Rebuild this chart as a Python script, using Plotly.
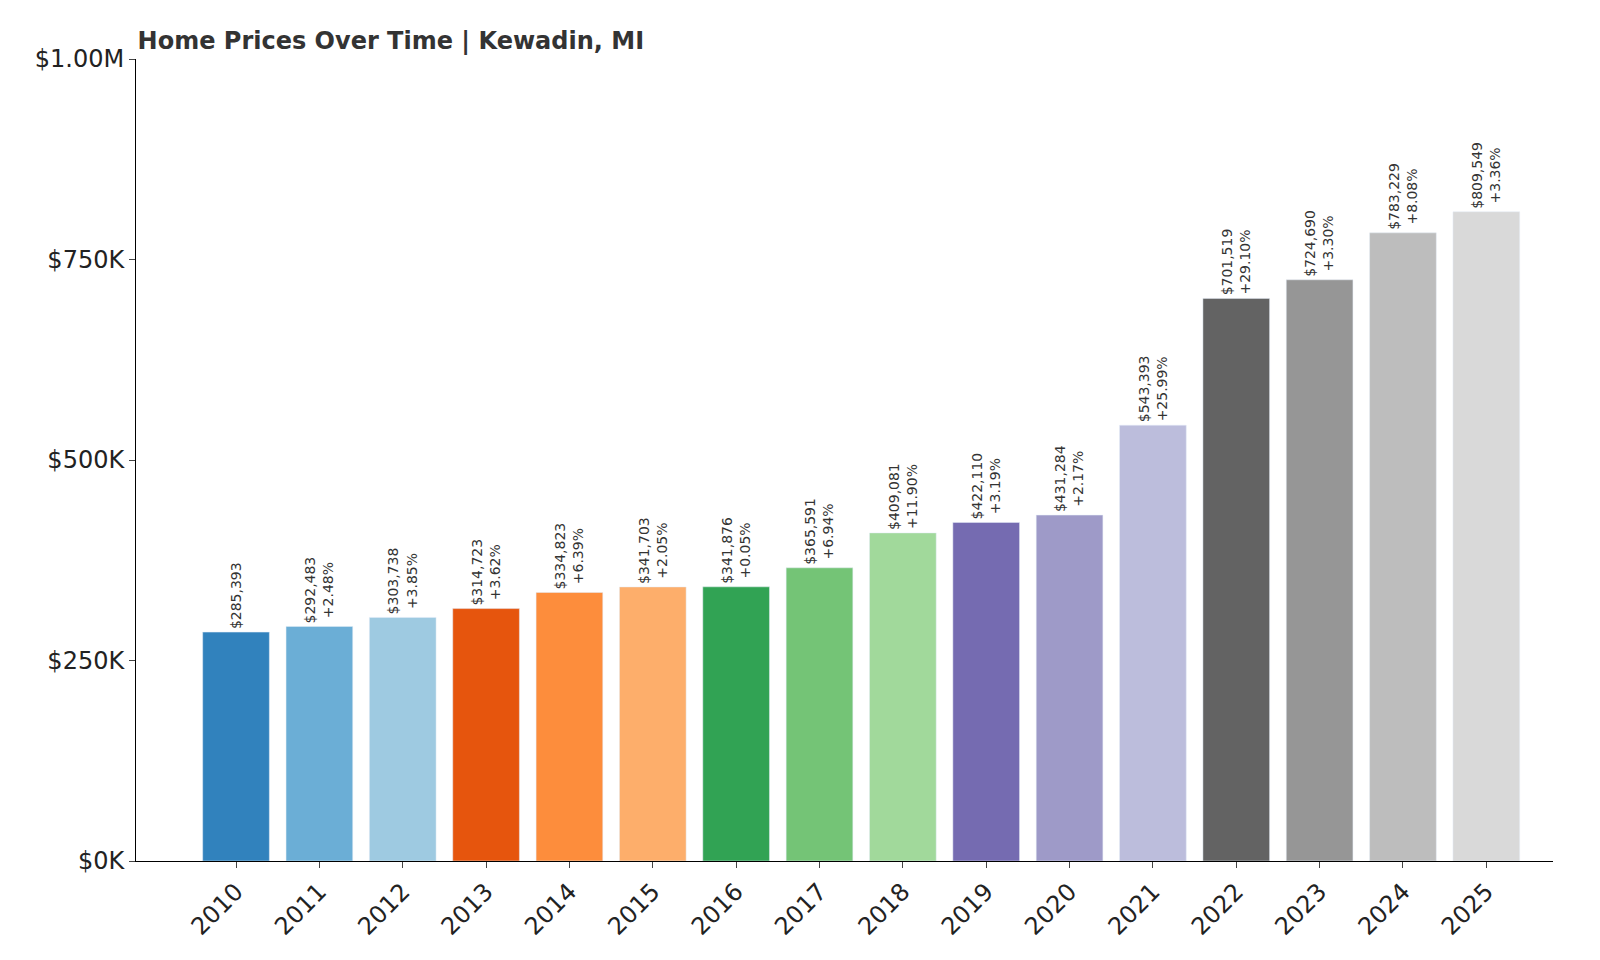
import plotly.graph_objects as go

years = [str(y) for y in range(2010, 2026)]
prices = [285393, 292483, 303738, 314723, 334823, 341703, 341876, 365591,
          409081, 422110, 431284, 543393, 701519, 724690, 783229, 809549]
changes = [None, "+2.48%", "+3.85%", "+3.62%", "+6.39%", "+2.05%", "+0.05%", "+6.94%",
           "+11.90%", "+3.19%", "+2.17%", "+25.99%", "+29.10%", "+3.30%", "+8.08%", "+3.36%"]
colors = ["#3182bd", "#6baed6", "#9ecae1", "#e6550d", "#fd8d3c", "#fdae6b",
          "#31a354", "#74c476", "#a1d99b", "#756bb1", "#9e9ac8", "#bcbddc",
          "#636363", "#969696", "#bdbdbd", "#d9d9d9"]

labels = []
for p, c in zip(prices, changes):
    labels.append(f"&#36;{p:,}" if c is None else f"&#36;{p:,}<br>{c}")

fig = go.Figure(go.Bar(
    x=years, y=prices, marker_color=colors, width=0.8, hoverinfo="skip",
    text=labels, textposition="outside", textangle=-90, cliponaxis=False,
    textfont=dict(size=16, color="#333333", family="DejaVu Sans"),
))

fig.update_layout(
    width=1600, height=960, plot_bgcolor="white", paper_bgcolor="white",
    font=dict(family="DejaVu Sans", color="#222222"),
    margin=dict(l=128, r=55, t=51, b=107),
    title=dict(text="<b>Home Prices Over Time | Kewadin, MI</b>", x=0.081, xanchor="left",
               y=0.975, yanchor="top", font=dict(size=24, color="#333333")),
    showlegend=False,
    uniformtext=dict(minsize=8, mode=False),
)
fig.update_xaxes(type="category", tickangle=-45, tickfont=dict(size=24), showline=True,
                 linecolor="black", ticks="outside", ticklen=6, range=[-1.2, 15.8])
fig.update_yaxes(range=[0, 1000000], tickvals=[0, 250000, 500000, 750000, 1000000],
                 ticktext=["$0K", "$250K", "$500K", "$750K", "$1.00M"], tickfont=dict(size=24),
                 showline=True, linecolor="black", ticks="outside", ticklen=6,
                 showgrid=False, zeroline=False)

fig.write_html("out.html")
